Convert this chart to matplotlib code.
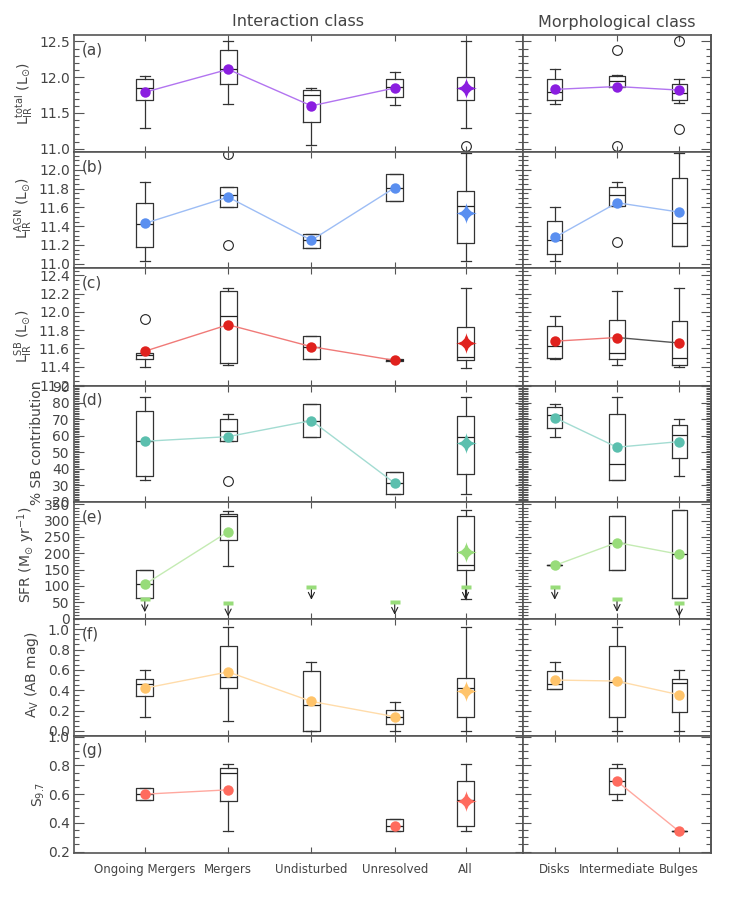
import numpy as np
import matplotlib.pyplot as plt
from matplotlib.path import Path
from matplotlib.ticker import MultipleLocator, FormatStrFormatter

inter_labels = ['Ongoing Mergers', 'Mergers', 'Undisturbed', 'Unresolved', 'All']
morph_labels = ['Disks', 'Intermediate', 'Bulges']

# box summaries: (whisker low, q1, median, q3, whisker high), None = no sources
# (a) L_IR total
a_inter = [(11.29, 11.68, 11.85, 11.98, 12.02), (11.63, 11.90, 12.11, 12.38, 12.51),
           (11.05, 11.38, 11.75, 11.82, 11.85), (11.61, 11.73, 11.87, 11.97, 12.07),
           (11.29, 11.68, 11.85, 12.01, 12.51)]
a_inter_mean = [11.79, 12.11, 11.60, 11.85, 11.85]
a_inter_out = [[], [], [], [], [11.04]]
a_morph = [(11.63, 11.68, 11.79, 11.98, 12.11), (11.86, 11.86, 11.95, 12.02, 12.03),
           (11.64, 11.68, 11.78, 11.91, 11.98)]
a_morph_mean = [11.83, 11.87, 11.82]
a_morph_out = [[], [12.38, 11.04], [12.51, 11.28]]

# (b) L_IR AGN
b_inter = [(11.03, 11.18, 11.42, 11.65, 11.87), (11.60, 11.60, 11.73, 11.82, 11.82),
           (11.17, 11.17, 11.25, 11.32, 11.32), (11.67, 11.67, 11.81, 11.96, 11.96),
           (11.03, 11.22, 11.61, 11.78, 12.18)]
b_inter_mean = [11.43, 11.71, 11.25, 11.81, 11.54]
b_inter_out = [[], [12.17, 11.20], [], [], []]
b_morph = [(11.03, 11.10, 11.25, 11.46, 11.60), (11.61, 11.61, 11.73, 11.82, 11.87),
           (11.19, 11.19, 11.43, 11.91, 12.18)]
b_morph_mean = [11.28, 11.65, 11.55]
b_morph_out = [[], [11.23], []]

# (c) L_IR SB
c_inter = [(11.40, 11.49, 11.53, 11.55, 11.55), (11.42, 11.44, 11.95, 12.23, 12.26),
           (11.49, 11.49, 11.62, 11.74, 11.74), (11.46, 11.46, 11.47, 11.48, 11.48),
           (11.39, 11.47, 11.51, 11.83, 12.26)]
c_inter_mean = [11.57, 11.86, 11.62, 11.47, 11.66]
c_inter_out = [[11.92], [], [], [], []]
c_morph = [(11.49, 11.50, 11.63, 11.85, 11.95), (11.42, 11.49, 11.55, 11.91, 12.23),
           (11.40, 11.42, 11.50, 11.90, 12.26)]
c_morph_mean = [11.68, 11.72, 11.66]
c_morph_out = [[], [], []]

# (d) % SB contribution
d_inter = [(33.0, 36.0, 56.7, 75.2, 83.3), (57.1, 57.1, 63.1, 70.0, 73.2),
           (59.2, 59.2, 69.2, 79.2, 79.2), (24.8, 24.8, 31.6, 38.1, 38.1),
           (25.0, 37.0, 59.2, 71.8, 83.3)]
d_inter_mean = [56.7, 59.5, 69.2, 31.4, 55.9]
d_inter_out = [[], [32.8], [], [], []]
d_morph = [(59.3, 64.6, 72.6, 77.2, 79.0), (33.0, 33.0, 43.1, 73.0, 83.3),
           (36.0, 46.5, 60.4, 66.8, 70.2)]
d_morph_mean = [71.0, 53.1, 56.5]
d_morph_out = [[], [], []]

# (e) SFR, with upper limits
e_inter = [(62, 62, 106, 148, 148), (162, 240, 315, 320, 330), None, None,
           (60, 149, 163, 315, 332)]
e_inter_mean = [105, 266, None, None, 204]
e_inter_out = [[], [], [], [], []]
e_inter_lim = [60, 47, 98, 52, 98]
e_morph = [(163, 163, 163, 163, 163), (149, 149, 231, 315, 315), (62, 62, 197, 331, 331)]
e_morph_mean = [163, 233, 197]
e_morph_out = [[], [], []]
e_morph_lim = [98, 61, 47]

# (f) A_V
f_inter = [(0.135, 0.34, 0.46, 0.51, 0.60), (0.10, 0.42, 0.53, 0.83, 1.025),
           (0.0, 0.0, 0.25, 0.59, 0.68), (0.0, 0.07, 0.14, 0.21, 0.28),
           (0.0, 0.135, 0.42, 0.52, 1.025)]
f_inter_mean = [0.42, 0.58, 0.29, 0.14, 0.39]
f_inter_out = [[], [], [], [], []]
f_morph = [(0.41, 0.41, 0.46, 0.59, 0.68), (0.0, 0.135, 0.48, 0.83, 1.025),
           (0.0, 0.19, 0.47, 0.51, 0.60)]
f_morph_mean = [0.50, 0.49, 0.355]
f_morph_out = [[], [], []]

# (g) S_9.7
g_inter = [(0.56, 0.56, 0.60, 0.64, 0.64), (0.34, 0.55, 0.75, 0.78, 0.81), None,
           (0.34, 0.34, 0.38, 0.43, 0.43), (0.34, 0.38, 0.56, 0.69, 0.81)]
g_inter_mean = [0.60, 0.63, None, 0.38, 0.55]
g_inter_out = [[], [], [], [], []]
g_morph = [None, (0.56, 0.60, 0.69, 0.78, 0.81), (0.34, 0.34, 0.34, 0.34, 0.34)]
g_morph_mean = [None, 0.69, 0.34]
g_morph_out = [[], [], []]

panels = [
    dict(tag='(a)', inter=a_inter, im=a_inter_mean, io=a_inter_out, morph=a_morph, mm=a_morph_mean,
         mo=a_morph_out, ylim=(10.955, 12.59), major=0.5, minor=0.1, fmt='%.1f',
         color='#8a1ee0', lcolor='#b274f0',
         ylabel=r'$\mathregular{L_{IR}^{total}}$ ($\mathregular{L_{\odot}}$)', lpos=(24, 94)),
    dict(tag='(b)', inter=b_inter, im=b_inter_mean, io=b_inter_out, morph=b_morph, mm=b_morph_mean,
         mo=b_morph_out, ylim=(10.955, 12.19), major=0.2, minor=0.05, fmt='%.1f',
         color='#5a8ff0', lcolor='#9dbdf5',
         ylabel=r'$\mathregular{L_{IR}^{AGN}}$ ($\mathregular{L_{\odot}}$)', lpos=(24, 208)),
    dict(tag='(c)', inter=c_inter, im=c_inter_mean, io=c_inter_out, morph=c_morph, mm=c_morph_mean,
         mo=c_morph_out, ylim=(11.19, 12.48), major=0.2, minor=0.05, fmt='%.1f',
         color='#e0221e', lcolor='#f07a78',
         ylabel=r'$\mathregular{L_{IR}^{SB}}$ ($\mathregular{L_{\odot}}$)', lpos=(24, 336)),
    dict(tag='(d)', inter=d_inter, im=d_inter_mean, io=d_inter_out, morph=d_morph, mm=d_morph_mean,
         mo=d_morph_out, ylim=(20, 90.1), major=10, minor=1, fmt='%d',
         color='#5bbfae', lcolor='#a3dcd2',
         ylabel='% SB contribution', lpos=(37, 443)),
    dict(tag='(e)', inter=e_inter, im=e_inter_mean, io=e_inter_out, morph=e_morph, mm=e_morph_mean,
         mo=e_morph_out, ylim=(-1, 357), major=50, minor=10, fmt='%d',
         color='#98dc7a', lcolor='#c4ebb3',
         ylabel=r'SFR ($\mathregular{M_{\odot}}$ yr$^{-1}$)', lpos=(26, 555)),
    dict(tag='(f)', inter=f_inter, im=f_inter_mean, io=f_inter_out, morph=f_morph, mm=f_morph_mean,
         mo=f_morph_out, ylim=(-0.05, 1.10), major=0.2, minor=0.05, fmt='%.1f',
         color='#ffc46b', lcolor='#ffdcaa',
         ylabel=r'$\mathregular{A_V}$ (AB mag)', lpos=(32, 675)),
    dict(tag='(g)', inter=g_inter, im=g_inter_mean, io=g_inter_out, morph=g_morph, mm=g_morph_mean,
         mo=g_morph_out, ylim=(0.19, 1.005), major=0.2, minor=0.05, fmt='%.1f',
         color='#ff6b5e', lcolor='#ffa89f',
         ylabel=r'$\mathregular{S_{9.7}}$', lpos=(39, 795)),
]

# 4-point sparkle used for the "All" mean
c = 0.12
star = Path([(0, 1), (c, c), (1, 0), (c, -c), (0, -1), (-c, -c), (-1, 0), (-c, c), (0, 1), (0, 1)],
            [Path.MOVETO] + [Path.CURVE3] * 8 + [Path.CLOSEPOLY])
bar = Path([(-1, -0.45), (1, -0.45), (1, 0.45), (-1, 0.45), (-1, -0.45)],
           [Path.MOVETO, Path.LINETO, Path.LINETO, Path.LINETO, Path.CLOSEPOLY])

W, H = 747, 898
xl, xm, xr = 74, 523, 711
rows = [35, 152, 268, 386, 502, 619, 736, 853]
inter_pos = [1, 2, 3, 4, 4.85]
morph_pos = [1, 2, 3]
txt = '#444444'
spc = '#555555'

fig = plt.figure(figsize=(W / 100, H / 100), dpi=100)


def draw_boxes(ax, boxes, outs, pos, width, capw):
    stats, p = [], []
    for b, o, x in zip(boxes, outs, pos):
        if b is None:
            continue
        stats.append(dict(whislo=b[0], q1=b[1], med=b[2], q3=b[3], whishi=b[4], fliers=o))
        p.append(x)
    lp = dict(color='#333333', linewidth=0.9)
    ax.bxp(stats, positions=p, widths=width, capwidths=capw, manage_ticks=False,
           boxprops=lp, whiskerprops=lp, capprops=lp,
           medianprops=dict(color='#222222', linewidth=0.9),
           flierprops=dict(marker='o', markerfacecolor='none', markeredgecolor='#222222',
                           markersize=7, markeredgewidth=0.8))


def draw_limits(ax, lims, pos, color, span):
    for v, x in zip(lims, pos):
        ax.annotate('', xy=(x, v - span), xytext=(x, v),
                    arrowprops=dict(arrowstyle='->', color='#222222', lw=0.8,
                                    shrinkA=0, shrinkB=0, mutation_scale=11))
        ax.plot(x, v, marker=bar, ms=7, color=color, mec='none', zorder=4)


def style(ax, p, pos, xlim, right_panel, bottom, labels):
    ax.set_xlim(*xlim)
    ax.set_ylim(*p['ylim'])
    ax.set_xticks(pos)
    ax.yaxis.set_major_locator(MultipleLocator(p['major']))
    ax.yaxis.set_minor_locator(MultipleLocator(p['minor']))
    ax.yaxis.set_major_formatter(FormatStrFormatter(p['fmt']))
    for s in ax.spines.values():
        s.set_color(spc)
        s.set_linewidth(1.2)
    ax.tick_params(axis='x', which='major', direction='in', top=True, bottom=True,
                   length=4, width=0.8, color=spc, labelsize=8.5, labelcolor=txt, pad=7)
    if bottom:
        ax.set_xticklabels(labels)
    else:
        ax.tick_params(axis='x', labelbottom=False)
    if right_panel:
        ax.tick_params(axis='y', which='both', direction='inout', left=True, right=False,
                       labelleft=False, color=spc, width=0.8)
        ax.tick_params(axis='y', which='major', length=12)
        ax.tick_params(axis='y', which='minor', length=7)
        sec = ax.secondary_yaxis('right')
        sec.yaxis.set_major_locator(MultipleLocator(p['major']))
        sec.yaxis.set_minor_locator(MultipleLocator(p['minor']))
        sec.tick_params(axis='y', which='both', direction='in', labelright=False,
                        color=spc, width=0.8)
        sec.tick_params(axis='y', which='major', length=7)
        sec.tick_params(axis='y', which='minor', length=3.5)
        sec.spines['right'].set_color(spc)
        sec.spines['right'].set_linewidth(1.2)
    else:
        ax.tick_params(axis='y', which='both', direction='in', left=True, right=False,
                       color=spc, width=0.8, labelsize=10, labelcolor=txt, pad=3)
        ax.tick_params(axis='y', which='major', length=7)
        ax.tick_params(axis='y', which='minor', length=3.5)


for i, p in enumerate(panels):
    y0 = 1 - rows[i + 1] / H
    h = (rows[i + 1] - rows[i]) / H
    axl = fig.add_axes([xl / W, y0, (xm - xl) / W, h])
    axr = fig.add_axes([xm / W, y0, (xr - xm) / W, h])
    last = i == len(panels) - 1

    # interaction class
    draw_boxes(axl, p['inter'], p['io'], inter_pos, 0.205, 0.12)
    m = np.array([np.nan if v is None else v for v in p['im']], dtype=float)
    axl.plot(inter_pos[:4], m[:4], color=p['lcolor'], lw=1.0, zorder=3)
    axl.plot(inter_pos[:4], m[:4], 'o', color=p['color'], ms=7.5, mec='none', zorder=5)
    axl.plot(inter_pos[4], m[4], marker=star, ms=15, color=p['color'], mec='none', zorder=5)
    style(axl, p, inter_pos, (0.15, 5.54), False, last, inter_labels)
    axl.text(8 / (xm - xl), 0.875, p['tag'], transform=axl.transAxes, fontsize=11,
             color=txt, ha='left', va='center')

    # morphological class
    draw_boxes(axr, p['morph'], p['mo'], morph_pos, 0.245, 0.16)
    mm = np.array([np.nan if v is None else v for v in p['mm']], dtype=float)
    if p['tag'] == '(c)':
        axr.plot(morph_pos[:2], mm[:2], color=p['lcolor'], lw=1.0, zorder=3)
        axr.plot(morph_pos[1:], mm[1:], color='#555555', lw=1.0, zorder=3)
    else:
        axr.plot(morph_pos, mm, color=p['lcolor'], lw=1.0, zorder=3)
    axr.plot(morph_pos, mm, 'o', color=p['color'], ms=7.5, mec='none', zorder=5)
    style(axr, p, morph_pos, (0.49, 3.51), True, last, morph_labels)

    if p['tag'] == '(e)':
        draw_limits(axl, e_inter_lim, inter_pos, p['color'], 40)
        draw_limits(axr, e_morph_lim, morph_pos, p['color'], 40)

    fig.text(p['lpos'][0] / W, 1 - p['lpos'][1] / H, p['ylabel'], rotation=90,
             ha='center', va='center', fontsize=10, color=txt)

fig.text(298 / W, 1 - 22 / H, 'Interaction class', ha='center', va='center',
         fontsize=11.5, color=txt)
fig.text(617 / W, 1 - 22 / H, 'Morphological class', ha='center', va='center',
         fontsize=11.5, color=txt)

fig.savefig('out.png', dpi=100)
